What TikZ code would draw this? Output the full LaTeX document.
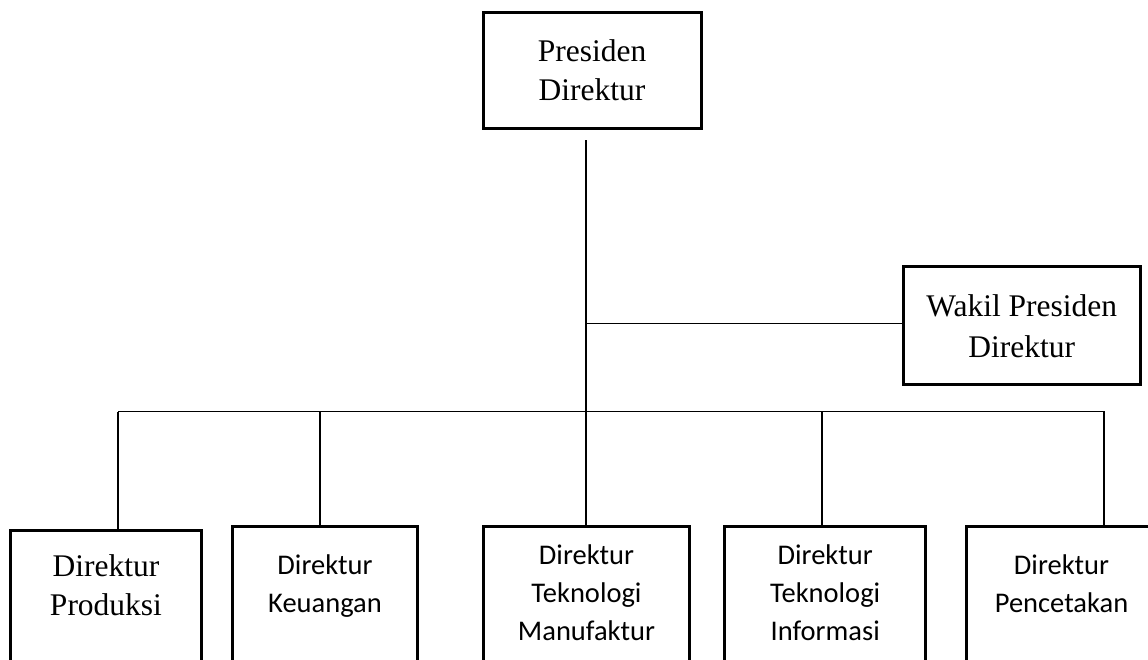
\documentclass[tikz,border=0pt]{standalone}
\usepackage{fontspec}
\setmainfont{Liberation Serif}
\newfontfamily\calibrifont{Carlito}
\begin{document}
\begin{tikzpicture}[x=1pt,y=-1pt,
  box/.style={draw, line width=3pt, outer sep=0pt, align=center},
  serifbox/.style={box, font=\fontsize{31.5}{39}\selectfont},
  sansbox/.style={box, font=\calibrifont\fontsize{28.5}{38}\selectfont},
  lowbox/.style={anchor=north, text depth=140pt},
  link/.style={line width=1.5pt}]
\path[use as bounding box] (0,0) rectangle (1148,659);
\clip (0,0) rectangle (1148,659);

% top of the chart
\node[serifbox, minimum width=218pt, minimum height=115.8pt] (pres) at (592,70.4) {Presiden\\Direktur};
\node[serifbox, minimum width=236.7pt, minimum height=118.3pt] (wakil) at (1021.7,325.8) {Wakil Presiden\\[2pt]Direktur};

% the five directors (boxes run past the lower edge)
\node[serifbox, lowbox, minimum width=190.5pt, inner ysep=23.7pt] (prod) at (106,530.8) {Direktur\\Produksi};
\node[sansbox, lowbox, minimum width=185pt, inner ysep=28.2pt] (keu) at (325,526.8) {Direktur\\Keuangan};
\node[sansbox, lowbox, minimum width=206.6pt, inner ysep=18.2pt] (manu) at (586.5,526.8) {Direktur\\Teknologi\\Manufaktur};
\node[sansbox, lowbox, minimum width=200.7pt, inner ysep=18.2pt] (info) at (825.2,526.8) {Direktur\\Teknologi\\Informasi};
\node[sansbox, lowbox, minimum width=190pt, inner ysep=28.2pt] (penc) at (1061.5,526.8) {Direktur\\Pencetakan};

% connector points
\coordinate (trunk) at (586,140);
\coordinate (branch) at (586,323.3);
\coordinate (busL) at (118,411.7);
\coordinate (busR) at (1105,411.7);
\coordinate (dKeu) at (320,411.7);
\coordinate (dInfo) at (822,411.7);
\coordinate (dPenc) at (1104,411.7);

% connectors
\draw[link] (trunk) -- (trunk |- manu.north);
\draw[link] (branch) -- (branch -| wakil.west);
\draw[link] (busL) -- (busR);
\draw[link] (busL) -- (busL |- prod.north);
\draw[link] (dKeu) -- (dKeu |- keu.north);
\draw[link] (dInfo) -- (dInfo |- info.north);
\draw[link] (dPenc) -- (dPenc |- penc.north);
\end{tikzpicture}
\end{document}
